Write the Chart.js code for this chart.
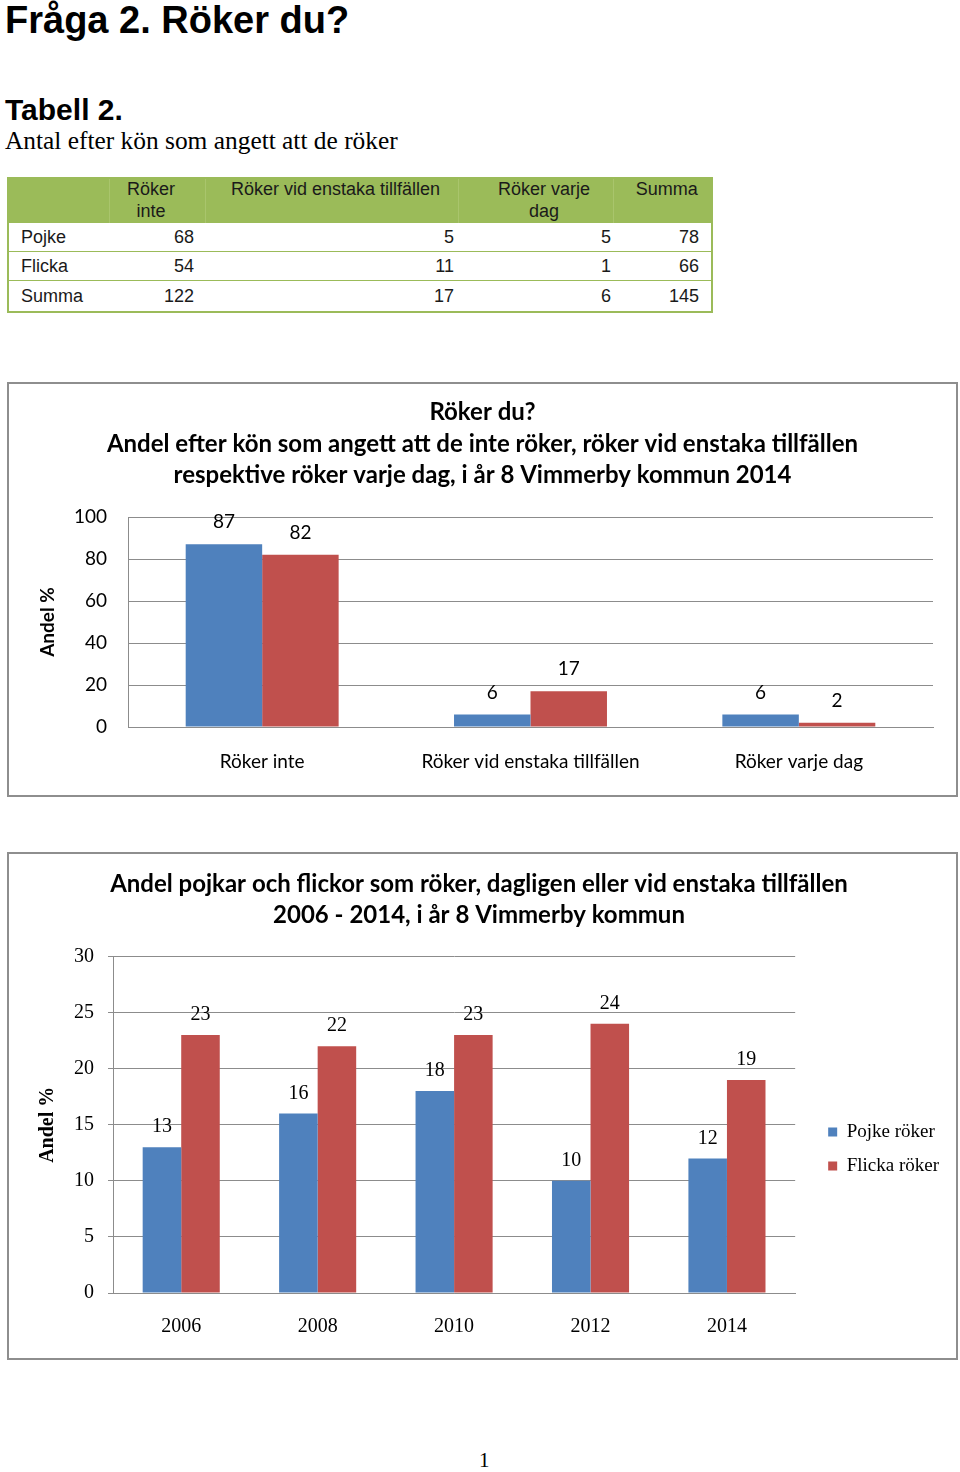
<!DOCTYPE html>
<html>
<head>
<meta charset="utf-8">
<script src="https://cdn.jsdelivr.net/npm/chart.js@4.4.1/dist/chart.umd.min.js"></script>
<style>
  body { margin: 0; background: #fff; width: 960px; height: 1472px; position: relative; overflow: hidden; }
  .abs { position: absolute; white-space: nowrap; }
  #rubrik { left: 5px; top: -1px; font: bold 38px "Liberation Sans", Arial, sans-serif; color: #000; line-height: 1.15; }
  #tabell { left: 5px; top: 93px; font: bold 30px "Liberation Sans", Arial, sans-serif; color: #000; line-height: 1.15; }
  #under { left: 5px; top: 126px; font: 25.4px "Liberation Serif", "Times New Roman", serif; color: #000; line-height: 1.15; }
  table { position: absolute; left: 7px; top: 177px; border-collapse: collapse; border: 2px solid #9bbb59;
          font: 18px "Liberation Sans", Arial, sans-serif; color: #1a1a1a; table-layout: fixed; }
  th { background: #9bbb59; font-weight: normal; line-height: 21.5px; padding: 0; height: 43px;
       border-left: 1px solid #a9c56c; text-align: center; vertical-align: top; }
  th:first-child { border-left: none; }
  td { height: 28px; padding: 0; border-top: 1px solid #9bbb59; text-align: right; }
  tr:last-child td { height: 30px; }
  td:first-child { text-align: left; padding-left: 12px; }
  .box { position: absolute; left: 7px; width: 947px; border: 2px solid #8e8e8e; background: #fff; }
  .box canvas { display: block; }
  #sida { left: 479px; top: 1448px; font: 21px "Liberation Serif", "Times New Roman", serif; }
</style>
</head>
<body>
<div class="abs" id="rubrik">Fråga 2. Röker du?</div>
<div class="abs" id="tabell">Tabell 2.</div>
<div class="abs" id="under">Antal efter kön som angett att de röker</div>

<table id="tab">
  <colgroup><col style="width:101px"><col style="width:96px"><col style="width:253px"><col style="width:155px"><col style="width:99px"></colgroup>
  <thead><tr id="huvud"></tr></thead>
  <tbody id="kropp"></tbody>
</table>

<div class="box" style="top:382px;height:411px"><canvas id="diagram1" width="947" height="411"></canvas></div>
<div class="box" style="top:852px;height:504px"><canvas id="diagram2" width="947" height="504"></canvas></div>

<div class="abs" id="sida">1</div>

<script>
// tabell 2
const kolumner = ['', 'Röker<br>inte', 'Röker vid enstaka tillfällen', 'Röker varje<br>dag', 'Summa'];
const radnamn = ['Pojke', 'Flicka', 'Summa'];
const rokerInte = [68, 54, 122];
const enstaka = [5, 11, 17];
const varjeDag = [5, 1, 6];
const summa = [78, 66, 145];

// diagram 1
const kategorier1 = ['Röker inte', 'Röker vid enstaka tillfällen', 'Röker varje dag'];
const pojke1 = [87, 6, 6];
const flicka1 = [82, 17, 2];
const yTicks1 = [0, 20, 40, 60, 80, 100];

// diagram 2
const ar = ['2006', '2008', '2010', '2012', '2014'];
const pojkeRoker = [13, 16, 18, 10, 12];
const flickaRoker = [23, 22, 23, 24, 19];
const yTicks2 = [0, 5, 10, 15, 20, 25, 30];

const BLA = '#4f81bd';
const ROD = '#c0504d';
const GRID = '#8c8c8c';
const CALIBRI = 'Lato, Carlito, Calibri, sans-serif';
const TIMES = '"Liberation Serif", "Times New Roman", serif';

// bygg tabellen
const padRight = ['', '11px', '4px', '2px', '12px'];
const thPad = ['', 'padding-right:12px', 'padding-left:8px', 'padding-left:17px', 'padding-left:9px'];
document.getElementById('huvud').innerHTML = kolumner.map((k, j) => '<th style="' + thPad[j] + '">' + k + '</th>').join('');
let rader = '';
for (let i = 0; i < radnamn.length; i++) {
    const celler = [radnamn[i], rokerInte[i], enstaka[i], varjeDag[i], summa[i]];
    rader += '<tr>' + celler.map((c, j) => j == 0 ? '<td>' + c + '</td>'
        : '<td style="padding-right:' + padRight[j] + '">' + c + '</td>').join('') + '</tr>';
}
document.getElementById('kropp').innerHTML = rader;

// värden ovanför staplarna
const etiketter = {
    id: 'etiketter',
    afterDatasetsDraw(chart, args, opts) {
        const ctx = chart.ctx;
        ctx.save();
        ctx.font = opts.font;
        ctx.fillStyle = '#000';
        ctx.textAlign = 'center';
        ctx.textBaseline = 'middle';
        chart.data.datasets.forEach((ds, i) => {
            chart.getDatasetMeta(i).data.forEach((bar, j) => {
                ctx.fillText(ds.data[j], bar.x, bar.y - opts.offset);
            });
        });
        ctx.restore();
    }
};

// tom axel till höger, ger luft utan att flytta rubriken
const tomAxel = w => ({
    position: 'right', display: true,
    grid: { display: false, drawTicks: false }, border: { display: false },
    ticks: { display: false },
    afterFit: s => { s.width = w; }
});

new Chart('diagram1', {
    type: 'bar',
    data: {
        labels: kategorier1,
        datasets: [
            { label: 'Pojke', data: pojke1, backgroundColor: BLA },
            { label: 'Flicka', data: flicka1, backgroundColor: ROD }
        ]
    },
    options: {
        responsive: false,
        animation: false,
        layout: { padding: 0 },
        datasets: { bar: { categoryPercentage: 0.57, barPercentage: 1.0 } },
        plugins: {
            legend: { display: false },
            tooltip: { enabled: false },
            title: {
                display: true,
                text: ['Röker du?', 'Andel efter kön som angett att de inte röker, röker vid enstaka tillfällen',
                       'respektive röker varje dag, i år 8 Vimmerby kommun 2014'],
                color: '#000',
                font: { family: CALIBRI, size: 24, weight: 'bold', lineHeight: 1.3125 },
                padding: { top: 13, bottom: 25.5 }
            },
            etiketter: { font: '19px ' + CALIBRI, offset: 22 }
        },
        scales: {
            x: {
                grid: { display: false, drawTicks: false },
                border: { color: GRID, width: 1 },
                ticks: { color: '#000', font: { family: CALIBRI, size: 19 }, padding: 23 },
                afterFit: s => { s.height = 68; }
            },
            y: {
                min: 0, max: 100,
                afterBuildTicks: s => { s.ticks = yTicks1.map(v => ({ value: v })); },
                grid: { color: GRID, drawTicks: false },
                border: { color: GRID, width: 1 },
                ticks: { color: '#000', font: { family: CALIBRI, size: 19 }, padding: 21 },
                title: { display: true, text: 'Andel %', color: '#000',
                         font: { family: CALIBRI, size: 19, weight: 'bold' }, padding: { top: 27, bottom: 0 } },
                afterFit: s => { s.width = 119; }
            },
            hoger: tomAxel(23)
        }
    },
    plugins: [etiketter]
});

new Chart('diagram2', {
    type: 'bar',
    data: {
        labels: ar,
        datasets: [
            { label: 'Pojke röker', data: pojkeRoker, backgroundColor: BLA },
            { label: 'Flicka röker', data: flickaRoker, backgroundColor: ROD }
        ]
    },
    options: {
        responsive: false,
        animation: false,
        layout: { padding: { left: 0, right: 7, top: 0, bottom: 0 } },
        datasets: { bar: { categoryPercentage: 0.565, barPercentage: 1.0 } },
        plugins: {
            legend: {
                position: 'right',
                title: { display: true, text: ' ', font: { size: 1 }, padding: { top: 85, bottom: 0 } },
                labels: { color: '#000', boxWidth: 9, boxHeight: 9, padding: 15,
                          font: { family: TIMES, size: 19 } }
            },
            tooltip: { enabled: false },
            title: {
                display: true,
                text: ['Andel pojkar och flickor som röker, dagligen eller vid enstaka tillfällen',
                       '2006 - 2014, i år 8 Vimmerby kommun'],
                color: '#000',
                font: { family: CALIBRI, size: 24, weight: 'bold', lineHeight: 1.292 },
                padding: { top: 15, bottom: 25.5 }
            },
            etiketter: { font: '20px ' + TIMES, offset: 20 }
        },
        scales: {
            x: {
                grid: { display: false, drawTicks: false },
                border: { color: GRID, width: 1 },
                ticks: { color: '#000', font: { family: TIMES, size: 20 }, padding: 22 },
                afterFit: s => { s.height = 65; }
            },
            y: {
                min: 0, max: 30,
                afterBuildTicks: s => { s.ticks = yTicks2.map(v => ({ value: v })); },
                grid: { color: GRID, tickLength: 5 },
                border: { color: GRID, width: 1 },
                ticks: { color: '#000', font: { family: TIMES, size: 20 }, padding: 14 },
                title: { display: true, text: 'Andel %', color: '#000',
                         font: { family: TIMES, size: 20, weight: 'bold' }, padding: { top: 27, bottom: 0 } },
                afterFit: s => { s.width = 104; }
            },
            hoger: tomAxel(18)
        }
    },
    plugins: [etiketter]
});
</script>
</body>
</html>
